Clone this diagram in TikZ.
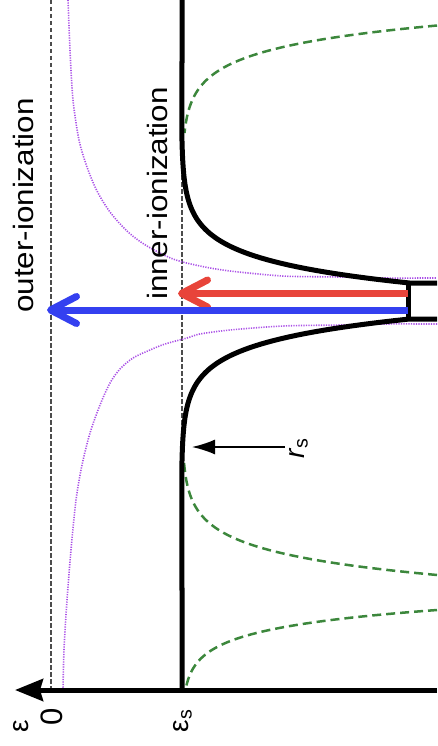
\documentclass[tikz,border=0pt]{standalone}
\usepackage{fontspec}
\setmainfont{Liberation Sans}
\usepackage{graphicx}
\usetikzlibrary{arrows.meta}
\definecolor{ionblue}{RGB}{52,64,240}
\definecolor{ionred}{RGB}{232,68,58}
\definecolor{ngreen}{RGB}{60,135,60}
\definecolor{coulomb}{RGB}{170,80,230}
\begin{document}
\begin{tikzpicture}[x=1pt,y=-1pt,
    lbl/.style={rotate=90,anchor=base,font=\fontsize{28}{32}\selectfont},
    level/.style={draw=black!70,line width=1.7pt,dash pattern=on 4.5pt off 2.5pt},
    wall/.style={line width=5pt,line join=round},
    neighbour/.style={ngreen,line width=2.5pt,dash pattern=on 9pt off 5pt},
    cluster/.style={coulomb,line width=1.6pt,dash pattern=on 1.2pt off 1.3pt},
    jump/.style={line width=7pt,-{Straight Barb[length=26pt,width=27pt,round]}}]
            \useasboundingbox (0,0) rectangle (437,746);
            \clip (0,0) rectangle (437,746);
            % ionization levels
            \draw[level] (51,0) -- (51,690);
            \draw[level] (182,0) -- (182,690);
            % cluster coulomb potential
            \draw[cluster] plot[smooth] coordinates {(68,0) (70,50) (73,100) (79,140) (87,167) (97,191) (110,212) (128,232) (147,246) (173,259) (200,266) (230,271) (283,276) (340,277) (380,278) (437,278)};
            \draw[cluster] plot[smooth] coordinates {(437,324) (380,324) (340,325) (283,326) (230,330) (200,334) (187,338) (165,344) (150,350) (133,358) (120,369) (110,383) (100,405) (90,433) (82,465) (76,500) (71,550) (67,600) (64,650) (63,690)};
            % neighbouring ions
            \draw[neighbour] plot[domain=17.5:125,samples=60] ({182+255*exp(-0.043*(\x-17.5))},{8+\x});
            \draw[neighbour] plot[domain=17.5:130,samples=60] ({182+255*exp(-0.043*(\x-17.5))},{592.5-\x});
            \draw[neighbour] plot[domain=17.5:97.5,samples=60] ({182+255*exp(-0.0536*(\x-17.5))},{592.5+\x});
            % screened potential
            \draw[wall] (182,0) -- plot[domain=160:18,samples=80] ({182+228*(exp(-0.042*(\x-18))-0.0026)},{301-\x}) -- (437,283);
            \draw[wall] (437,319) -- plot[domain=18:160,samples=80] ({182+228*(exp(-0.042*(\x-18))-0.0026)},{301+\x}) -- (182,690);
            \draw[wall] (408.5,283) -- (408.5,319);
            % axis
            \coordinate (axisR) at (437,690);
            \coordinate (axisT) at (15,690);
            \draw[line width=5pt,-{Stealth[length=28pt,width=22pt,inset=3pt]}] (axisR) -- (axisT);
            % transitions
            \coordinate (wallR) at (408,293.5);
            \coordinate (innerT) at (178,293.5);
            \coordinate (wallB) at (408,310);
            \coordinate (outerT) at (47,310);
            \draw[jump,ionred] (wallR) -- (innerT);
            \draw[jump,ionblue] (wallB) -- (outerT);
            % screening radius
            \coordinate (rsfrom) at (285,447);
            \coordinate (rsto) at (192,447);
            \draw[line width=1.5pt,-{Latex[length=23pt,width=15pt]}] (rsfrom) -- (rsto);
            \node[lbl] (rs) at (304,448) {\textit{r}\textsubscript{s}};
            \node[lbl] (outer) at (33,205.5) {\scalebox{1.12}[1]{outer-ionization}};
            \node[lbl] (inner) at (167,193.5) {\scalebox{1.12}[1]{inner-ionization}};
            \node[lbl,font=\fontsize{31}{34}\selectfont] (zero) at (62,717) {0};
            \node[lbl] (eps) at (28,726.5) {ε};
            \node[lbl] (epss) at (188,721) {ε\textsubscript{s}};
        \end{tikzpicture}
\end{document}
